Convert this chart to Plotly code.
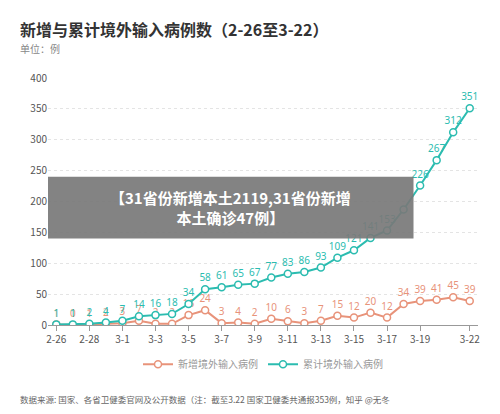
import plotly.graph_objects as go

dates = ["2-26","2-27","2-28","2-29","3-1","3-2","3-3","3-4","3-5","3-6","3-7","3-8","3-9","3-10",
         "3-11","3-12","3-13","3-14","3-15","3-16","3-17","3-18","3-19","3-20","3-21","3-22"]
daily = [1,0,1,2,3,7,2,2,16,24,3,4,2,10,6,3,7,15,12,20,12,34,39,41,45,39]
cumul = [1,1,2,4,7,14,16,18,34,58,61,65,67,77,83,86,93,109,121,141,153,187,226,267,312,351]
tick_labels = ["2-26","2-28","3-1","3-3","3-5","3-7","3-9","3-11","3-13","3-15","3-17","3-19","3-22"]

orange = "#e8937a"
teal = "#2bbcb0"
daily_text = [str(v) for v in daily]
cumul_text = [str(v) for v in cumul]
cumul_text[21] = ""

fig = go.Figure()
fig.add_trace(go.Scatter(x=dates, y=daily, name="新增境外输入病例", mode="lines+markers+text",
    line=dict(color=orange, width=2), marker=dict(size=7, color="white", line=dict(color=orange, width=1.5)),
    text=daily_text, textposition="top center", textfont=dict(color=orange, size=10, family="Noto Sans")))
fig.add_trace(go.Scatter(x=dates, y=cumul, name="累计境外输入病例", mode="lines+markers+text",
    line=dict(color=teal, width=2), marker=dict(size=7, color="white", line=dict(color=teal, width=1.5)),
    text=cumul_text, textposition="top center", textfont=dict(color=teal, size=10, family="Noto Sans")))

fig.update_layout(
    width=500, height=414, plot_bgcolor="white", paper_bgcolor="white",
    margin=dict(l=40, r=30, t=70, b=97),
    font=dict(family="Noto Sans CJK SC", color="#555"),
    xaxis=dict(type="category", tickvals=tick_labels, ticktext=tick_labels, showgrid=False,
               showline=True, linecolor="#999", ticks="outside", tickcolor="#999",
               tickfont=dict(size=10, color="#555"), range=[-0.5, 25.5]),
    yaxis=dict(range=[0, 400], dtick=50, gridcolor="#e4e4e4", griddash="dot",
               tickfont=dict(size=10, color="#555"), zeroline=False),
    legend=dict(orientation="h", x=0.5, xanchor="center", y=-0.1, yanchor="top",
                font=dict(size=10, color="#999")),
    showlegend=True,
)
fig.add_annotation(text="<b>新增与累计境外输入病例数（2-26至3-22）</b>", xref="paper", yref="paper",
                   x=-0.07, y=1.2, xanchor="left", yanchor="middle", showarrow=False,
                   font=dict(size=16, color="#333"))
fig.add_annotation(text="单位：例", xref="paper", yref="paper", x=-0.07, y=1.12,
                   xanchor="left", yanchor="middle", showarrow=False, font=dict(size=10, color="#888"))
fig.add_annotation(text="数据来源: 国家、各省卫健委官网及公开数据（注：截至3.22 国家卫健委共通报353例，知乎 @无冬",
                   xref="paper", yref="paper", x=-0.07, y=-0.3, xanchor="left", yanchor="middle",
                   showarrow=False, font=dict(size=8.5, color="#666"))
fig.add_shape(type="rect", xref="paper", yref="paper", x0=0.0, x1=0.85, y0=0.35, y1=0.6,
              fillcolor="rgba(120,120,120,0.92)", line=dict(width=0), layer="above")
fig.add_annotation(text="<b>【31省份新增本土2119,31省份新增<br>本土确诊47例】</b>", xref="paper", yref="paper",
                   x=0.425, y=0.475, showarrow=False, font=dict(size=15, color="white"))
fig.write_html("out.html")
